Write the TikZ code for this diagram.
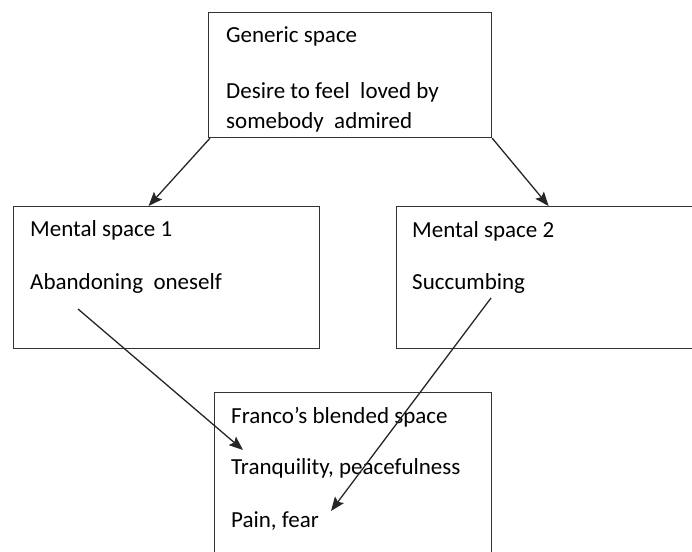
\documentclass[tikz,border=0pt]{standalone}
\usepackage{fontspec}
\setmainfont{Carlito}
\usetikzlibrary{arrows.meta,positioning}

\begin{document}
\begin{tikzpicture}[x=1pt,y=-1pt,
spacebox/.style={rectangle, draw=black!80, line width=1.2pt, anchor=north west, inner sep=0pt},
words/.style={anchor=base west, inner sep=0pt, font=\fontsize{23}{27}\selectfont},
link/.style={-{Stealth[length=14pt,width=11pt,inset=2.5pt]}, line width=1.3pt, draw=black!85},
]
\useasboundingbox (0,0) rectangle (692,551);
\clip (0,0) rectangle (692,551);
%Boxes
\node[spacebox, minimum width=283pt, minimum height=125pt] (generic) at (208,12)  {};
\node[spacebox, minimum width=306pt, minimum height=142pt] (ms1)     at (13,206)  {};
\node[spacebox, minimum width=304pt, minimum height=142pt] (ms2)     at (396,206) {};
\node[spacebox, minimum width=277pt, minimum height=170pt] (blend)   at (214,392) {};

%Texts
\node[words] (gentitle) at (226,43)  {Generic space};
\node[words] (desire)   at (226,98)  {Desire to feel\ \ loved by};
\node[words] (somebody) at (226,128) {somebody\ \ admired};
\node[words] (ms1title) at (30,236)  {Mental space 1};
\node[words] (aband)    at (30,289)  {Abandoning\ \ oneself};
\node[words] (ms2title) at (412,237) {Mental space 2};
\node[words] (succ)     at (412,289) {Succumbing};
\node[words] (bltitle)  at (231,423) {Franco’s blended space};
\node[words] (tranq)    at (231,474) {Tranquility, peacefulness};
\node[words] (pain)     at (231,527) {Pain, fear};

%Lines
\draw[link] ([xshift=2pt]generic.south west) -- ([xshift=-18pt]ms1.north);
\draw[link] (generic.south east) -- (ms2.north);
\draw[link] ([shift={(48,20)}]aband.base west) -- ([shift={(12,-24)}]tranq.base west);
\draw[link] ([shift={(79,9)}]succ.base west) -- ([shift={(100,-16)}]pain.base west);
\end{tikzpicture}
\end{document}
